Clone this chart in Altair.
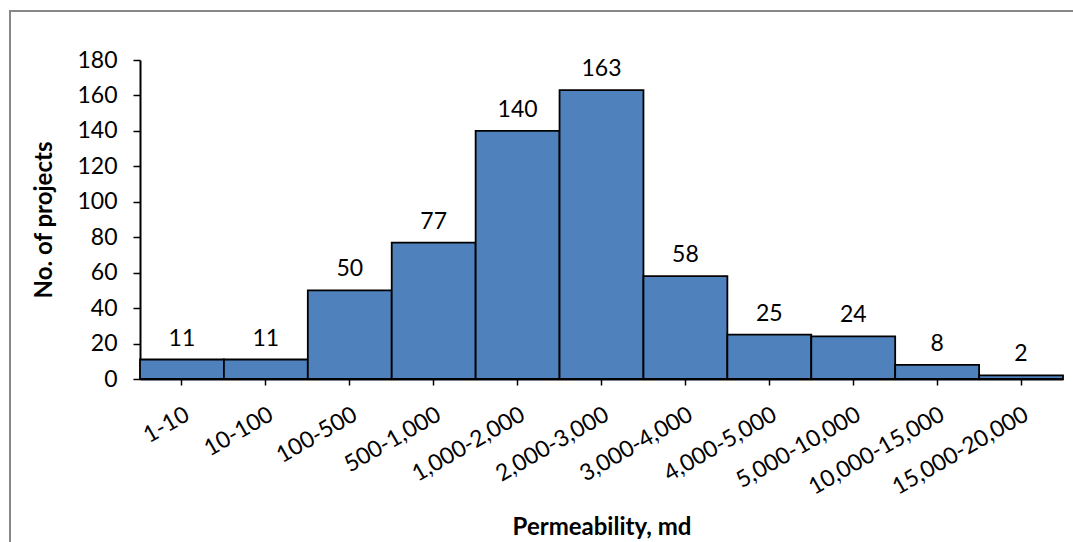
import altair as alt
import pandas as pd

# Permeability classes (md) and number of projects in each
ranges = ["1-10", "10-100", "100-500", "500-1,000", "1,000-2,000", "2,000-3,000",
          "3,000-4,000", "4,000-5,000", "5,000-10,000", "10,000-15,000", "15,000-20,000"]
projects = [11, 11, 50, 77, 140, 163, 58, 25, 24, 8, 2]

df = pd.DataFrame({"range": ranges, "count": projects})

FONT = "Lato"
FS = 23
W, H = 923, 319

x_enc = alt.X("range:N", sort=ranges,
              scale=alt.Scale(paddingInner=0, paddingOuter=0),
              axis=alt.Axis(title="Permeability, md", labelAngle=-30, labelAlign="right",
                            labelBaseline="top", labelFontSize=FS, labelFont=FONT,
                            labelColor="black", labelPadding=18, labelOverlap=False,
                            titleFont=FONT, titleFontSize=24, titleFontWeight="bold",
                            titleColor="black", titlePadding=16,
                            domainColor="black", domainWidth=2, tickColor="black",
                            tickSize=6, tickWidth=1.5))
y_enc = alt.Y("count:Q", scale=alt.Scale(domain=[0, 180], nice=False),
              axis=alt.Axis(title="No. of projects", values=list(range(0, 181, 20)),
                            grid=False, labelFontSize=FS, labelFont=FONT,
                            labelColor="black", labelPadding=16, labelOverlap=False,
                            titleFont=FONT, titleFontSize=24, titleFontWeight="bold",
                            titleColor="black", titlePadding=20,
                            domainColor="black", domainWidth=2, tickColor="black",
                            tickSize=7, tickWidth=1.5))

# bars and their value labels share one set of encodings, so one pair of axes
base = alt.Chart(df).encode(x=x_enc, y=y_enc)

bars = base.mark_bar(color="#4F81BD", stroke="black", strokeWidth=1.8)

labels = base.mark_text(font=FONT, fontSize=FS, color="black",
                        baseline="alphabetic", dy=-14).encode(text="count:Q")

# outer frame around the whole figure
frame = alt.Chart(df).mark_rect(fill=None, stroke="#888888", strokeWidth=2).encode(
    x=alt.value(-130), x2=alt.value(W + 40), y=alt.value(-49), y2=alt.value(H + 200))

chart = alt.layer(frame, bars, labels).properties(
    width=W, height=H,
    autosize=alt.AutoSizeParams(type="none"),
    padding={"left": 140, "top": 60, "right": 10, "bottom": 163},
    background="white",
).configure_view(stroke=None)

chart.save("out.html", embed_options={"renderer": "svg", "actions": False})
